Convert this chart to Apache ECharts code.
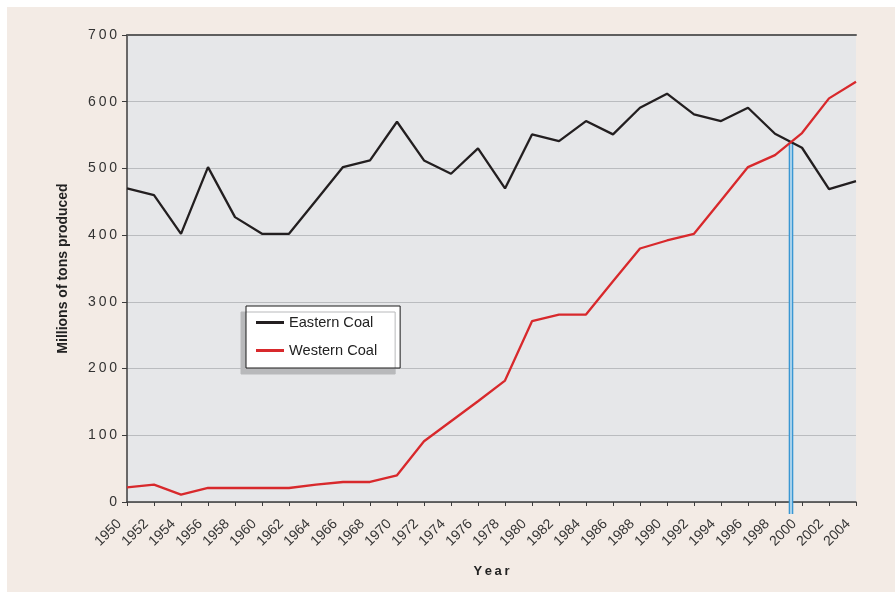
<!DOCTYPE html>
<html>
<head>
<meta charset="utf-8">
<script src="https://cdn.jsdelivr.net/npm/echarts@6/dist/echarts.min.js"></script>
<style>
  html, body { margin: 0; padding: 0; background: #fff; }
  #paper { position: absolute; left: 7px; top: 7px; width: 888px; height: 585px; background: #f3ebe5; }
  #main { position: absolute; left: 0; top: 0; width: 895px; height: 592px; }
</style>
</head>
<body>
<div id="paper"></div>
<div id="main"></div>
<script>
  // production, millions of tons, every second year
  const years = [1950, 1952, 1954, 1956, 1958, 1960, 1962, 1964, 1966, 1968, 1970, 1972, 1974, 1976,
    1978, 1980, 1982, 1984, 1986, 1988, 1990, 1992, 1994, 1996, 1998, 2000, 2002, 2004]
  const easternCoal = [470, 460, 402, 502, 427, 402, 402, 452, 502, 512, 570, 512, 492, 530,
    470, 551, 541, 571, 551, 591, 612, 581, 571, 591, 552, 531, 469, 481]
  const westernCoal = [22, 26, 11, 21, 21, 21, 21, 26, 30, 30, 40, 91, 121, 151,
    182, 271, 281, 281, 331, 380, 392, 402, 452, 502, 520, 553, 605, 630]
  const yTicks = [0, 100, 200, 300, 400, 500, 600, 700]

  const spaced = function (s) {
    return String(s).split('').join('\u2009')
  }

  // where western coal overtakes eastern coal
  let cross = null
  for (let i = 1; i < years.length && !cross; i++) {
    const d0 = easternCoal[i - 1] - westernCoal[i - 1]
    const d1 = easternCoal[i] - westernCoal[i]
    if (d0 > 0 && d1 <= 0) {
      const t = d0 / (d0 - d1)
      cross = [years[i - 1] + t * (years[i] - years[i - 1]),
        easternCoal[i - 1] + t * (easternCoal[i] - easternCoal[i - 1])]
    }
  }
  const crossLine = [cross, [cross[0], -18]]

  const chart = echarts.init(document.getElementById('main'))
  const option = {
    backgroundColor: 'transparent',
    animation: false,
    textStyle: { fontFamily: 'Liberation Sans, Arial, sans-serif' },
    grid: {
      left: 127, top: 35, right: 39, bottom: 90,
      show: true, backgroundColor: '#e6e7e9', borderWidth: 0
    },
    legend: {
      orient: 'vertical',
      left: 246,
      top: 306,
      data: ['Eastern Coal', 'Western Coal'],
      icon: 'rect',
      itemWidth: 28,
      itemHeight: 3,
      itemGap: 13,
      padding: [9, 23, 10, 10],
      backgroundColor: '#fff',
      borderColor: '#1a1a1a',
      borderWidth: 1,
      shadowColor: '#b8b9bb',
      shadowBlur: 0,
      shadowOffsetX: -5,
      shadowOffsetY: 6,
      textStyle: { fontSize: 14.6, color: '#222' }
    },
    xAxis: [{
      type: 'value',
      min: years[0],
      max: years[years.length - 1],
      interval: 2,
      name: spaced('Year'),
      nameLocation: 'middle',
      nameGap: 63,
      nameTextStyle: { fontSize: 13, fontWeight: 'bold', color: '#222' },
      axisLine: { lineStyle: { color: '#3c3c3c', width: 1.5 } },
      axisTick: { length: 4, lineStyle: { color: '#3c3c3c' } },
      axisLabel: {
        rotate: 45,
        margin: 12,
        padding: [0, 11, 0, 0],
        fontSize: 14,
        color: '#333',
        formatter: function (v) { return String(v) }
      },
      splitLine: { show: false }
    }, {
      type: 'value',
      position: 'top',
      min: years[0],
      max: years[years.length - 1],
      axisLine: { lineStyle: { color: '#5e5e5e', width: 2 } },
      axisTick: { show: false },
      axisLabel: { show: false },
      splitLine: { show: false }
    }],
    yAxis: {
      type: 'value',
      min: yTicks[0],
      max: yTicks[yTicks.length - 1],
      interval: 100,
      name: 'Millions of tons produced',
      nameLocation: 'middle',
      nameGap: 57,
      nameTextStyle: { fontSize: 14, fontWeight: 'bold', color: '#222' },
      axisLine: { show: true, lineStyle: { color: '#3c3c3c', width: 1.5 } },
      axisTick: { show: true, length: 5, lineStyle: { color: '#3c3c3c' } },
      axisLabel: {
        margin: 10,
        fontSize: 14,
        color: '#333',
        formatter: function (v) { return spaced(v) }
      },
      splitLine: { lineStyle: { color: '#babcbf', width: 1.2 } }
    },
    series: [
      {
        name: 'crossing',
        type: 'line',
        data: crossLine,
        symbol: 'none',
        clip: false,
        silent: true,
        lineStyle: { color: '#3a97d3', width: 4.6 },
        z: 1
      },
      {
        name: 'crossing-inner',
        type: 'line',
        data: crossLine,
        symbol: 'none',
        clip: false,
        silent: true,
        lineStyle: { color: '#d6eaf6', width: 1.4 },
        z: 1
      },
      {
        name: 'Eastern Coal',
        type: 'line',
        data: years.map(function (y, i) { return [y, easternCoal[i]] }),
        symbol: 'none',
        color: '#231f20',
        lineStyle: { color: '#231f20', width: 2.3 },
        z: 3
      },
      {
        name: 'Western Coal',
        type: 'line',
        data: years.map(function (y, i) { return [y, westernCoal[i]] }),
        symbol: 'none',
        color: '#d8292c',
        lineStyle: { color: '#d8292c', width: 2.3 },
        z: 4
      }
    ]
  }
  chart.setOption(option)
</script>
</body>
</html>
